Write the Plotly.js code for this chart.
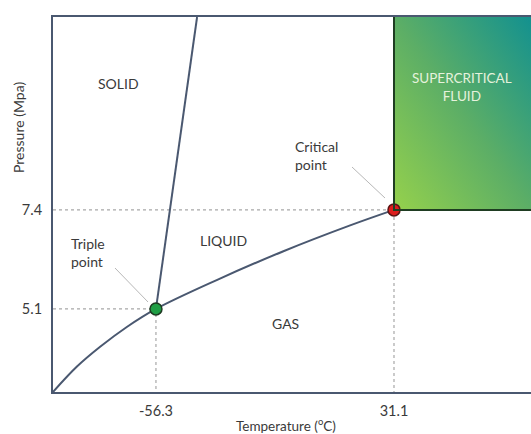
<!DOCTYPE html>
<html>
<head>
<meta charset="utf-8">
<script src="https://cdn.plot.ly/plotly-3.0.1.min.js"></script>
<style>html,body{margin:0;padding:0;background:#fff;}#chart{width:531px;height:434px;}</style>
</head>
<body>
<div id="chart"></div>
<script>
// Data
const xRange = [-94.1, 81.4];
const yRange = [3.17, 11.88];
const tickT = [-56.3, 31.1];
const tickTText = ['-56.3', '31.1'];
const tickP = [5.1, 7.4];
const tickPText = ['5.1', '7.4'];
const boilT = [-94.1, -85.4, -76.8, -67.0, -56.3, -34.0, -9.5, 15.0, 31.1];
const boilP = [3.17, 3.755, 4.22, 4.68, 5.1, 5.77, 6.44, 7.04, 7.4];
const meltT = [-56.3, -41.2];
const meltP = [5.1, 11.88];
const tripleT = [-56.3];
const tripleP = [5.1];
const criticalT = [31.1];
const criticalP = [7.4];

const lineCol = '#4a5870';
const font = 'Lato, "Open Sans", sans-serif';
const txt = '#3a3a3a';

const traces = [
  {x: [xRange[0], tripleT[0], tripleT[0]], y: [tripleP[0], tripleP[0], yRange[0]], mode: 'lines',
   line: {color: '#a8a8a8', width: 1.2, dash: 'dot'}, hoverinfo: 'skip'},
  {x: [xRange[0], criticalT[0], criticalT[0]], y: [criticalP[0], criticalP[0], yRange[0]], mode: 'lines',
   line: {color: '#a8a8a8', width: 1.2, dash: 'dot'}, hoverinfo: 'skip'},
  {x: boilT, y: boilP, mode: 'lines', line: {color: lineCol, width: 2, shape: 'spline', smoothing: 1}},
  {x: meltT, y: meltP, mode: 'lines', line: {color: lineCol, width: 2}},
  {x: tripleT, y: tripleP, mode: 'markers', marker: {size: 12, color: '#1f9e45', line: {color: '#1d3a22', width: 1.5}}},
  {x: criticalT, y: criticalP, mode: 'markers', marker: {size: 12, color: '#dd1d1d', line: {color: '#5a1414', width: 1.5}}}
];

const svg = '<svg xmlns="http://www.w3.org/2000/svg" width="100" height="100" preserveAspectRatio="none" viewBox="0 0 100 100">' +
  '<defs><linearGradient id="g" x1="0" y1="1" x2="1" y2="0">' +
  '<stop offset="0" stop-color="#95d14c"/><stop offset="0.5" stop-color="#5cae66"/><stop offset="1" stop-color="#13918f"/>' +
  '</linearGradient></defs><rect width="100" height="100" fill="url(#g)"/></svg>';
const imgSrc = 'data:image/svg+xml;charset=utf-8,' + encodeURIComponent(svg);

const scPath = 'M' + criticalT[0] + ',' + yRange[1] + ' L' + criticalT[0] + ',' + criticalP[0] + ' L' + xRange[1] + ',' + criticalP[0];

// px -> paper helpers (plot area: x 53..531, y 17..392)
const px = v => (v - 53) / 478;
const py = v => (392 - v) / 375;
const ann = (text, x, y, opts) => Object.assign({text: text, x: px(x), y: py(y), xref: 'paper', yref: 'paper',
  xanchor: 'center', yanchor: 'middle', showarrow: false, font: {family: font, size: 14, color: txt}}, opts || {});

const layout = {
  width: 531, height: 434,
  margin: {l: 53, r: 0, t: 17, b: 42},
  paper_bgcolor: '#fff', plot_bgcolor: '#fff',
  showlegend: false,
  xaxis: {range: xRange, tickvals: tickT, ticktext: tickTText, showgrid: false, zeroline: false,
    showline: true, linecolor: lineCol, linewidth: 2, mirror: true, ticks: '', ticklabelstandoff: 5,
    tickfont: {family: font, size: 14.5, color: txt}, fixedrange: true},
  yaxis: {range: yRange, tickvals: tickP, ticktext: tickPText, showgrid: false, zeroline: false,
    showline: true, linecolor: lineCol, linewidth: 2, ticks: '', ticklabelstandoff: 6,
    tickfont: {family: font, size: 14.5, color: txt}, fixedrange: true},
  images: [{source: imgSrc, xref: 'x', yref: 'y', x: criticalT[0], y: yRange[1],
    sizex: xRange[1] - criticalT[0], sizey: yRange[1] - criticalP[0], xanchor: 'left', yanchor: 'top',
    sizing: 'stretch', layer: 'below'}],
  shapes: [
    {type: 'path', path: scPath, xref: 'x', yref: 'y', line: {color: '#1f3d22', width: 2}, layer: 'above'},
    {type: 'line', xref: 'paper', yref: 'paper', x0: px(352), y0: py(167), x1: px(385), y1: py(198),
     line: {color: '#b8b8b8', width: 1}},
    {type: 'line', xref: 'paper', yref: 'paper', x0: px(115), y0: py(268), x1: px(148), y1: py(302),
     line: {color: '#b8b8b8', width: 1}}
  ],
  annotations: [
    ann('SOLID', 118, 84),
    ann('LIQUID', 223, 240),
    ann('GAS', 285, 323),
    ann('SUPERCRITICAL<br>FLUID', 462, 87, {font: {family: font, size: 13.5, color: '#e6f2dc'}}),
    ann('Critical<br>point', 293, 155, {xanchor: 'left', align: 'left'}),
    ann('Triple<br>point', 69, 252, {xanchor: 'left', align: 'left'}),
    ann('Pressure (Mpa)', 18, 128, {textangle: -90, font: {family: font, size: 14, color: txt}}),
    ann('Temperature (<sup>o</sup>C)', 286, 425, {font: {family: font, size: 13.5, color: txt}})
  ]
};

Plotly.newPlot('chart', traces, layout, {displayModeBar: false, staticPlot: true});
</script>
</body>
</html>
